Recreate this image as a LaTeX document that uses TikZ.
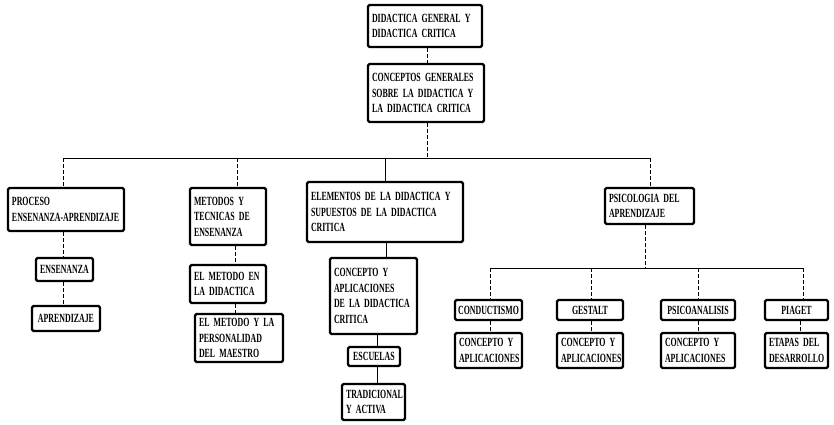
\documentclass[tikz,border=0pt]{standalone}
\usepackage{fontspec}
\setmainfont{Liberation Serif}[FakeStretch=0.63,WordSpace=1.8]
\begin{document}
\begin{tikzpicture}[x=1pt,y=-1pt,
  box/.style={draw, line width=2.2pt, rounded corners=1.5pt, inner xsep=3pt, inner ysep=1pt,
    font=\bfseries\fontsize{12.5}{15.5}\selectfont, align=left},
  conn/.style={line width=0.7pt, dash pattern=on 4pt off 2pt},
  sconn/.style={line width=0.8pt},
  hbar/.style={line width=1pt}]
\useasboundingbox (0,0) rectangle (834,424);
% top
\node[box, minimum width=114pt, minimum height=42pt, text width=106pt] (top) at (425,26) {DIDACTICA GENERAL Y\\DIDACTICA CRITICA};
\node[box, minimum width=116pt, minimum height=58pt, text width=108pt] (c2) at (426,93) {CONCEPTOS GENERALES\\SOBRE LA DIDACTICA Y\\LA DIDACTICA CRITICA};
% first level
\node[box, minimum width=116pt, minimum height=43pt, text width=108pt] (proc) at (66,209.5) {PROCESO\\ENSENANZA-APRENDIZAJE};
\node[box, minimum width=76pt, minimum height=57pt, text width=68pt] (met) at (228,216.5) {METODOS Y\\TECNICAS DE\\ENSENANZA};
\node[box, minimum width=156pt, minimum height=60pt, text width=148pt] (elem) at (385,212) {ELEMENTOS DE LA DIDACTICA Y\\SUPUESTOS DE LA DIDACTICA\\CRITICA};
\node[box, minimum width=89pt, minimum height=36pt, text width=81pt] (psi) at (649.5,206) {PSICOLOGIA DEL\\APRENDIZAJE};
% left column
\node[box, minimum width=57pt, minimum height=23pt, align=center] (ens) at (64.5,269.5) {ENSENANZA};
\node[box, minimum width=68pt, minimum height=25pt, align=center] (apr) at (66,318.5) {APRENDIZAJE};
% methods column
\node[box, minimum width=76pt, minimum height=38pt, text width=68pt] (metd) at (228,284) {EL METODO EN\\LA DIDACTICA};
\node[box, minimum width=88pt, minimum height=48pt, text width=80pt] (metp) at (239,338) {EL METODO Y LA\\PERSONALIDAD\\DEL MAESTRO};
% elements column
\node[box, minimum width=87pt, minimum height=76pt, text width=79pt] (cap) at (373.5,296) {CONCEPTO Y\\APLICACIONES\\DE LA DIDACTICA\\CRITICA};
\node[box, minimum width=52pt, minimum height=19pt, align=center] (esc) at (374,356.5) {ESCUELAS};
\node[box, minimum width=63pt, minimum height=36pt, text width=55pt] (trad) at (373.5,402) {TRADICIONAL\\Y ACTIVA};
% psychology
\node[box, minimum width=67pt, minimum height=20pt, align=center] (cond) at (488.5,310) {CONDUCTISMO};
\node[box, minimum width=66pt, minimum height=20pt, align=center] (ges) at (590,310) {GESTALT};
\node[box, minimum width=74pt, minimum height=20pt, align=center] (psa) at (698,310) {PSICOANALISIS};
\node[box, minimum width=63pt, minimum height=20pt, align=center] (pia) at (796.5,310) {PIAGET};
\node[box, minimum width=67pt, minimum height=35pt, text width=59pt] (cond2) at (488.5,350.5) {CONCEPTO Y\\APLICACIONES};
\node[box, minimum width=66pt, minimum height=35pt, text width=58pt] (ges2) at (590,350.5) {CONCEPTO Y\\APLICACIONES};
\node[box, minimum width=74pt, minimum height=35pt, text width=66pt] (psa2) at (698,350.5) {CONCEPTO Y\\APLICACIONES};
\node[box, minimum width=63pt, minimum height=35pt, text width=55pt] (pia2) at (796.5,350.5) {ETAPAS DEL\\DESARROLLO};
% connectors
\coordinate (b0) at (427,158);
\coordinate (bL) at (63,158);
\coordinate (bM) at (237,158);
\coordinate (bE) at (385,158);
\coordinate (bR) at (650,158);
\draw[conn] (top.south -| b0) -- (c2.north -| b0);
\draw[conn] (c2.south -| b0) -- (b0);
\draw[hbar] (bL) -- (bR);
\draw[conn] (bL) -- (bL |- proc.north);
\draw[conn] (bM) -- (bM |- met.north);
\draw[sconn] (bE) -- (bE |- elem.north);
\draw[conn] (bR) -- (bR |- psi.north);
\draw[conn] (bL |- proc.south) -- (bL |- ens.north);
\draw[conn] (bL |- ens.south) -- (bL |- apr.north);
\coordinate (mx) at (235,0);
\draw[conn] (mx |- met.south) -- (mx |- metd.north);
\draw[conn] (mx |- metd.south) -- (mx |- metp.north);
\coordinate (ex) at (386,0);
\coordinate (ex2) at (377,0);
\draw[sconn] (ex |- elem.south) -- (ex |- cap.north);
\draw[sconn] (ex2 |- cap.south) -- (ex2 |- esc.north);
\draw[sconn] (ex2 |- esc.south) -- (ex2 |- trad.north);
\coordinate (p0) at (645,268);
\coordinate (pL) at (490,268);
\coordinate (pG) at (591,268);
\coordinate (pP) at (698,268);
\coordinate (pR) at (803,268);
\draw[conn] (p0 |- psi.south) -- (p0);
\draw[hbar] (pL) -- (pR);
\draw[conn] (pL) -- (pL |- cond.north);
\draw[conn] (pG) -- (pG |- ges.north);
\draw[conn] (pP) -- (pP |- psa.north);
\draw[conn] (pR) -- (pR |- pia.north);
\draw[conn] (pL |- cond.south) -- (pL |- cond2.north);
\draw[conn] (pG |- ges.south) -- (pG |- ges2.north);
\draw[conn] (pP |- psa.south) -- (pP |- psa2.north);
\coordinate (pR2) at (800,0);
\draw[conn] (pR2 |- pia.south) -- (pR2 |- pia2.north);
\end{tikzpicture}
\end{document}
